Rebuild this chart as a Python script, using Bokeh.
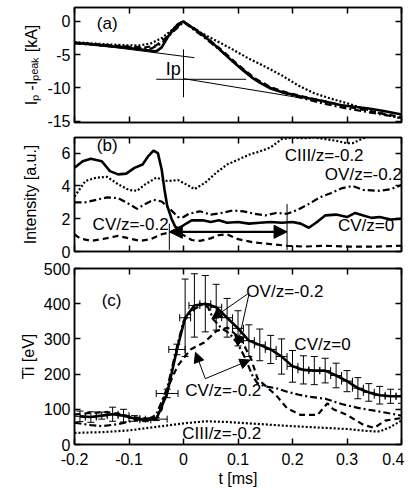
import numpy as np
from bokeh.plotting import figure
from bokeh.layouts import column
from bokeh.models import (LinearAxis, Range1d, FixedTicker, Label, Arrow, NormalHead,
                          Whisker, TeeHead, ColumnDataSource)
from bokeh.embed import file_html
from bokeh.resources import INLINE

# ---------------- data ----------------
x_ticks = [-0.2, -0.1, 0.0, 0.1, 0.2, 0.3, 0.4]
x_tick_labels = ["-0.2", "-0.1", "0", "0.1", "0.2", "0.3", "0.4"]
ya_ticks = [0, -5, -10, -15]
yb_ticks = [0, 2, 4, 6]
yc_ticks = [0, 100, 200, 300, 400, 500]

# panel (a): Ip - Ipeak [kA]
a_solid_t = [-0.2, -0.15, -0.1, -0.07, -0.06, -0.05, -0.04, -0.03, -0.02, -0.01, 0.0, 0.01, 0.03, 0.05, 0.07,
             0.09, 0.11, 0.125, 0.14, 0.16, 0.18, 0.2, 0.22, 0.25, 0.29, 0.34, 0.37, 0.4]
a_solid_v = [-3.2, -3.6, -4.0, -4.3, -4.4, -4.5, -3.9, -2.5, -1.3, -0.4, 0.0, -0.6, -1.7, -3.0, -4.5,
             -6.0, -7.4, -8.4, -9.2, -10.1, -10.6, -11.0, -11.4, -11.9, -12.6, -13.1, -13.5, -14.0]
a_dot_t = [-0.2, -0.15, -0.1, -0.08, -0.06, -0.04, -0.02, -0.01, 0.0, 0.01, 0.03, 0.06, 0.09, 0.12, 0.15,
           0.18, 0.21, 0.24, 0.27, 0.3, 0.33, 0.36, 0.4]
a_dot_v = [-3.1, -3.4, -3.6, -3.6, -3.3, -2.5, -1.2, -0.4, 0.0, -0.6, -1.6, -2.9, -4.2, -5.6, -6.8,
           -8.1, -9.6, -10.8, -11.6, -12.3, -13.1, -13.8, -14.6]
a_dash_t = [-0.2, -0.15, -0.1, -0.07, -0.05, -0.03, -0.015, 0.0, 0.03, 0.07, 0.1, 0.13, 0.16, 0.19, 0.22,
            0.26, 0.3, 0.35, 0.4]
a_dash_v = [-3.2, -3.5, -3.8, -3.9, -3.6, -2.3, -1.0, 0.0, -1.6, -4.3, -6.5, -8.5, -9.9, -10.7, -11.3,
            -12.0, -12.8, -13.6, -14.4]
a_dashdot_t = [-0.2, -0.1, -0.06, -0.04, -0.02, 0.0, 0.03, 0.07, 0.1, 0.13, 0.16, 0.19, 0.22, 0.26, 0.3,
               0.35, 0.4]
a_dashdot_v = [-3.3, -3.9, -4.1, -3.3, -1.6, -0.1, -1.9, -4.5, -6.6, -8.6, -10.0, -10.9, -11.6, -12.4,
               -13.1, -13.8, -14.5]

# panel (b): intensity [a.u.]
b_cv0_t = [-0.2, -0.185, -0.17, -0.15, -0.135, -0.12, -0.105, -0.09, -0.075, -0.065, -0.055, -0.047, -0.04,
           -0.035, -0.03, -0.022, -0.015, -0.008, 0.0, 0.015, 0.035, 0.05, 0.065, 0.08, 0.1, 0.12, 0.14,
           0.16, 0.18, 0.2, 0.215, 0.23, 0.245, 0.26, 0.28, 0.3, 0.315, 0.33, 0.345, 0.36, 0.38, 0.4]
b_cv0_v = [5.1, 5.5, 5.65, 5.5, 4.9, 4.7, 4.75, 5.1, 5.3, 5.8, 6.15, 6.0, 5.0,
           3.8, 2.8, 2.0, 1.5, 1.4, 1.6, 1.9, 1.9, 1.8, 1.9, 1.75, 1.8, 1.7, 1.75,
           1.8, 1.75, 1.8, 1.7, 1.45, 1.8, 2.2, 2.25, 2.1, 2.35, 2.2, 2.05, 2.1, 1.95, 2.0]
b_ciii_t = [-0.2, -0.18, -0.16, -0.14, -0.12, -0.1, -0.085, -0.07, -0.05, -0.03, -0.01, 0.01, 0.02, 0.04,
            0.06, 0.08, 0.1, 0.12, 0.14, 0.16, 0.18, 0.2, 0.22, 0.24, 0.26, 0.28, 0.3, 0.31, 0.33, 0.35,
            0.38, 0.4]
b_ciii_v = [3.35, 4.3, 4.5, 4.55, 4.1, 3.75, 3.7, 4.1, 4.5, 4.3, 4.35, 4.0, 3.8, 4.2,
            4.8, 5.3, 5.6, 5.9, 6.1, 6.35, 6.85, 6.95, 6.9, 6.95, 6.85, 6.75, 6.6, 6.6, 6.9, 7.2,
            7.3, 7.3]
b_ov_t = [-0.2, -0.18, -0.16, -0.14, -0.12, -0.1, -0.085, -0.07, -0.055, -0.04, -0.025, -0.01, 0.0, 0.01,
          0.03, 0.05, 0.07, 0.09, 0.11, 0.13, 0.15, 0.17, 0.19, 0.21, 0.23, 0.25, 0.27, 0.29, 0.31, 0.33,
          0.36, 0.38, 0.4]
b_ov_v = [3.0, 3.0, 3.15, 3.3, 3.25, 2.9, 2.6, 2.9, 3.15, 3.05, 2.6, 2.1, 2.1, 2.3,
          2.45, 2.25, 2.35, 2.5, 2.45, 2.3, 2.2, 2.35, 2.3, 2.55, 2.9, 3.3, 3.55, 3.85, 4.0, 3.75,
          3.7, 3.8, 4.05]
b_cvm_t = [-0.2, -0.19, -0.17, -0.15, -0.12, -0.1, -0.08, -0.06, -0.04, -0.02, 0.0, 0.015, 0.03, 0.05,
           0.065, 0.08, 0.1, 0.13, 0.16, 0.19, 0.22, 0.26, 0.3, 0.35, 0.4]
b_cvm_v = [1.05, 0.8, 0.65, 0.75, 0.95, 0.8, 0.65, 0.75, 1.05, 1.2, 1.0, 0.7, 0.65, 0.8,
           1.0, 1.05, 0.75, 0.55, 0.45, 0.35, 0.3, 0.35, 0.3, 0.3, 0.35]

# panel (c): Ti [eV]
c_cv0_t = [-0.19, -0.17, -0.15, -0.13, -0.11, -0.09, -0.07, -0.05, -0.03, -0.012, 0.003, 0.02, 0.04, 0.06,
           0.08, 0.1, 0.12, 0.14, 0.16, 0.18, 0.2, 0.22, 0.24, 0.26, 0.28, 0.3, 0.32, 0.34, 0.36, 0.38, 0.4]
c_cv0_v = [80, 78, 82, 86, 82, 74, 70, 72, 145, 270, 360, 395, 400, 390,
           360, 330, 295, 283, 270, 250, 222, 212, 210, 210, 196, 180, 160, 148, 140, 137, 137]
c_cv0_err = [15, 15, 10, 20, 18, 8, 5, 4, 12, 15, 110, 90, 80, 65,
             55, 50, 45, 45, 40, 50, 45, 40, 40, 35, 35, 30, 30, 25, 25, 20, 20]
c_cv0_terr = [0.01, 0.01, 0.01, 0.01, 0.01, 0.01, 0.01, 0.02, 0.02, 0.015, 0.01, 0.01, 0.01, 0.01,
              0.01, 0.01, 0.01, 0.01, 0.01, 0.01, 0.01, 0.01, 0.01, 0.01, 0.01, 0.01, 0.01, 0.01, 0.01, 0.01, 0.01]
c_ov_t = [-0.2, -0.17, -0.15, -0.12, -0.1, -0.08, -0.06, -0.05, -0.03, -0.01, 0.0, 0.02, 0.035, 0.045,
          0.055, 0.07, 0.085, 0.1, 0.115, 0.125, 0.135, 0.15, 0.17, 0.19, 0.21, 0.23, 0.26, 0.29, 0.32,
          0.35, 0.38, 0.4]
c_ov_v = [62, 55, 52, 58, 65, 72, 75, 85, 160, 290, 350, 385, 398, 390,
          355, 330, 315, 285, 240, 200, 175, 165, 160, 150, 142, 136, 130, 115, 104, 96, 88, 82]
c_cvm_t = [-0.2, -0.17, -0.14, -0.12, -0.1, -0.08, -0.06, -0.05, -0.04, -0.035, -0.011, 0.013, 0.038, 0.06,
           0.081, 0.105, 0.124, 0.136, 0.155, 0.17, 0.19, 0.215, 0.246, 0.264, 0.275, 0.3, 0.33, 0.35,
           0.37, 0.4]
c_cvm_v = [85, 90, 92, 88, 80, 75, 73, 75, 100, 140, 223, 270, 290, 322,
           332, 300, 243, 187, 160, 140, 103, 84, 84, 117, 100, 84, 56, 47, 68, 75]
c_ciii_t = [-0.2, -0.15, -0.1, -0.05, 0.0, 0.04, 0.08, 0.12, 0.16, 0.2, 0.25, 0.3, 0.34, 0.36, 0.38, 0.4]
c_ciii_v = [33, 35, 40, 50, 60, 66, 64, 60, 56, 52, 48, 44, 38, 37, 50, 68]

# ---------------- styling ----------------
FONT = "Liberation Sans"
FS = "16px"
FS_ANN = "17px"
X_RANGE = (-0.2, 0.4)
W = 404
LEFT = 74
RIGHT = 3


def style_axis(ax, ticks, labels=None, show=True):
    ax.ticker = FixedTicker(ticks=ticks)
    ax.axis_line_color = "black"
    ax.axis_line_width = 1.5
    ax.major_tick_in = 6
    ax.major_tick_out = 0
    ax.major_tick_line_width = 1.5
    ax.major_tick_line_color = "black"
    ax.minor_tick_line_color = None
    ax.major_label_text_font = FONT
    ax.major_label_text_color = "black"
    ax.axis_label_text_font = FONT
    ax.axis_label_text_font_size = FS
    ax.axis_label_text_font_style = "normal"
    ax.axis_label_text_color = "black"
    if labels is not None:
        ax.major_label_overrides = {t: l for t, l in zip(ticks, labels)}
    if show:
        ax.major_label_text_font_size = FS
        ax.major_label_standoff = 4
    else:
        ax.major_label_text_font_size = "1px"
        ax.major_label_text_alpha = 0
        ax.major_label_text_color = None
        ax.major_label_standoff = 0


def make_fig(height, yr, yticks, ylabel, ylabel_standoff, top, bottom, show_x):
    p = figure(width=W, height=height, x_range=Range1d(*X_RANGE), y_range=Range1d(*yr),
               output_backend="svg", toolbar_location=None,
               min_border_left=LEFT, min_border_right=RIGHT,
               min_border_top=top, min_border_bottom=bottom)
    p.xgrid.visible = False
    p.ygrid.visible = False
    p.outline_line_color = "black"
    p.outline_line_width = 1.5
    p.background_fill_color = "white"
    bx = p.below[0]
    style_axis(bx, x_ticks, x_tick_labels, show_x)
    ly = p.left[0]
    style_axis(ly, yticks, [str(t) for t in yticks], True)
    ly.axis_label = ylabel
    ly.axis_label_standoff = ylabel_standoff
    ra = LinearAxis()
    style_axis(ra, yticks, None, False)
    p.add_layout(ra, "right")
    ta = LinearAxis()
    style_axis(ta, x_ticks, None, False)
    p.add_layout(ta, "above")
    return p, bx


def txt(p, x, y, s, size=FS_ANN, align="center"):
    p.add_layout(Label(x=x, y=y, text=s, text_font=FONT, text_font_size=size, text_color="black",
                       text_align=align, text_baseline="middle"))


SOLID = dict(line_color="black", line_width=2.6)
DOT = dict(line_color="black", line_width=2.2, line_dash="2 2")
DASH = dict(line_color="black", line_width=2.2, line_dash="6 4")
DASHDOT = dict(line_color="black", line_width=2.2, line_dash="7 3 2 3")
THIN = dict(line_color="black", line_width=1)

# ---------------- panel (a) ----------------
pa, _ = make_fig(130, (-15.2, 2.1), ya_ticks, "Iₚ -Iₚₑₐₖ [kA]", 4, 7, 8, False)
pa.line(a_dot_t, a_dot_v, **DOT)
pa.line(a_dash_t, a_dash_v, **DASH)
pa.line(a_dashdot_t, a_dashdot_v, **DASHDOT)
pa.line(a_solid_t, a_solid_v, **SOLID)
# construction lines for Ip
pre_tan_t = [-0.2, 0.02]
pre_tan_v = [-3.15, -5.45]
post_tan_t = [0.0, 0.215]
post_tan_v = [-8.6, -11.5]
hline_t = [-0.05, 0.115]
hline_v = [-8.7, -8.7]
vline_t = [0.0, 0.0]
vline_v = [-4.2, -11.4]
pa.line(pre_tan_t, pre_tan_v, **THIN)
pa.line(post_tan_t, post_tan_v, **THIN)
pa.line(hline_t, hline_v, **THIN)
pa.line(vline_t, vline_v, **THIN)
txt(pa, -0.019, -7.2, "Ip", "18px")
txt(pa, -0.14, -0.3, "(a)")

# ---------------- panel (b) ----------------
pb, _ = make_fig(130, (0, 6.95), yb_ticks, "Intensity [a.u.]", 20, 7, 9, False)
pb.line(b_ciii_t, b_ciii_v, **DOT)
pb.line(b_ov_t, b_ov_v, **DASHDOT)
pb.line(b_cvm_t, b_cvm_v, **DASH)
pb.line(b_cv0_t, b_cv0_v, **SOLID)
pb.line([-0.026, -0.026], [0.1, 1.7], **THIN)
pb.line([0.19, 0.19], [0.1, 2.9], **THIN)
pb.add_layout(Arrow(x_start=-0.026, y_start=1.2, x_end=0.19, y_end=1.2, line_width=2.2,
                    start=NormalHead(size=13, fill_color="black", line_color="black"),
                    end=NormalHead(size=13, fill_color="black", line_color="black")))
txt(pb, -0.14, 6.45, "(b)")
txt(pb, 0.258, 5.85, "CIII/z=-0.2")
txt(pb, 0.33, 4.7, "OV/z=-0.2")
txt(pb, 0.335, 1.6, "CV/z=0")
txt(pb, -0.097, 1.65, "CV/z=-0.2")

# ---------------- panel (c) ----------------
pc, pc_x = make_fig(229, (0, 500), yc_ticks, "Ti [eV]", 4, 8, 42, True)
pc_x.major_label_standoff = 8
pc_x.axis_label = "t [ms]"
pc_x.axis_label_standoff = 2
pc.line(c_ciii_t, c_ciii_v, **DOT)
pc.line(c_cvm_t, c_cvm_v, **DASH)
pc.line(c_ov_t, c_ov_v, **DASHDOT)
src = ColumnDataSource(dict(
    t=c_cv0_t, v=c_cv0_v,
    up=[v + e for v, e in zip(c_cv0_v, c_cv0_err)],
    lo=[v - e for v, e in zip(c_cv0_v, c_cv0_err)],
    tl=[t - e for t, e in zip(c_cv0_t, c_cv0_terr)],
    th=[t + e for t, e in zip(c_cv0_t, c_cv0_terr)],
))
pc.add_layout(Whisker(source=src, base="t", upper="up", lower="lo", dimension="height",
                      line_width=1, line_color="black",
                      upper_head=TeeHead(size=7, line_width=1), lower_head=TeeHead(size=7, line_width=1)))
pc.add_layout(Whisker(source=src, base="v", upper="th", lower="tl", dimension="width",
                      line_width=1, line_color="black",
                      upper_head=TeeHead(size=7, line_width=1), lower_head=TeeHead(size=7, line_width=1)))
pc.line("t", "v", source=src, **SOLID)

for (xs, ys, xe, ye) in [(0.118, 428, 0.052, 357), (0.12, 426, 0.099, 280),
                         (0.04, 187, 0.022, 262), (0.04, 187, 0.122, 240)]:
    pc.add_layout(Arrow(x_start=xs, y_start=ys, x_end=xe, y_end=ye, line_width=1,
                        end=NormalHead(size=10, fill_color="black", line_color="black")))
txt(pc, -0.132, 410, "(c)")
txt(pc, 0.186, 436, "OV/z=-0.2")
txt(pc, 0.255, 283, "CV/z=0")
txt(pc, 0.073, 152, "CV/z=-0.2")
txt(pc, 0.07, 31, "CIII/z=-0.2")

layout = column(pa, pb, pc)
open("out.html", "w").write(file_html(layout, INLINE))
